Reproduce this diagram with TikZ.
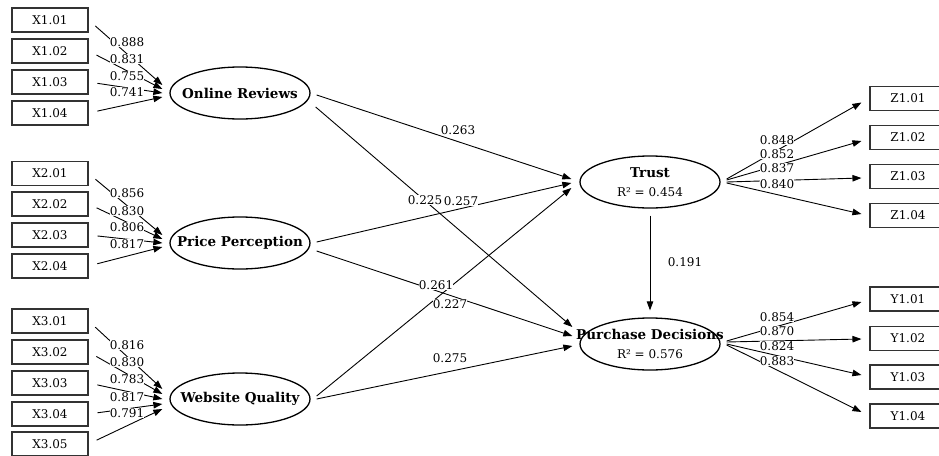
\documentclass[tikz,border=0pt]{standalone}
\usepackage{fontspec}
\setmainfont{DejaVu Serif}
\usetikzlibrary{arrows.meta,shapes.geometric,calc}
\newcommand{\lvtitle}[1]{\makebox[0pt]{\fontsize{13.5}{18}\selectfont\bfseries #1}}
\newcommand{\lvsub}[1]{\makebox[0pt]{\fontsize{12}{18}\selectfont #1}}
\begin{document}
\begin{tikzpicture}[x=1pt,y=-1pt,
  ind/.style={draw=black!80, line width=1.1pt, minimum width=76pt, minimum height=24pt, inner sep=0pt, font=\fontsize{12}{14}\selectfont},
  lat/.style={draw, ellipse, line width=1.3pt, minimum width=140pt, minimum height=52pt, inner sep=0pt, align=center, font=\fontsize{12}{19}\selectfont},
  edge/.style={line width=0.9pt, -{Triangle[length=9pt,width=6.5pt]}},
  lbl/.style={fill=white, inner sep=0.3pt, font=\fontsize{12}{14}\selectfont},
]
\useasboundingbox[fill=white] (0,0) rectangle (939,455);

% indicators
\node[ind] (x101) at (50,20) {X1.01};
\node[ind] (x102) at (50,51) {X1.02};
\node[ind] (x103) at (50,82) {X1.03};
\node[ind] (x104) at (50,113) {X1.04};
\node[ind] (x201) at (50,173.5) {X2.01};
\node[ind] (x202) at (50,204) {X2.02};
\node[ind] (x203) at (50,235) {X2.03};
\node[ind] (x204) at (50,266) {X2.04};
\node[ind] (x301) at (50,321) {X3.01};
\node[ind] (x302) at (50,352) {X3.02};
\node[ind] (x303) at (50,383) {X3.03};
\node[ind] (x304) at (50,414) {X3.04};
\node[ind] (x305) at (50,444) {X3.05};

\node[ind] (z101) at (908,98.5) {Z1.01};
\node[ind] (z102) at (908,137.5) {Z1.02};
\node[ind] (z103) at (908,176.5) {Z1.03};
\node[ind] (z104) at (908,215.5) {Z1.04};
\node[ind] (y101) at (908,299) {Y1.01};
\node[ind] (y102) at (908,338.5) {Y1.02};
\node[ind] (y103) at (908,377) {Y1.03};
\node[ind] (y104) at (908,416) {Y1.04};

% latent variables
\node[lat] (or) at (240,93) {\lvtitle{Online Reviews}};
\node[lat] (pp) at (240,243) {\lvtitle{Price Perception}};
\node[lat] (wq) at (240,399) {\lvtitle{Website Quality}};
\node[lat] (tr) at (650,182) {\lvtitle{Trust}\\\lvsub{R² = 0.454}};
\node[lat] (pd) at (650,344) {\lvtitle{Purchase Decisions}\\\lvsub{R² = 0.576}};

% measurement edges (left)
\draw[edge, shorten <=9pt] (x101.east) -- ($(or.west)+(-7,-8)$);
\draw[edge, shorten <=9pt] (x102.east) -- ($(or.west)+(-7,-4)$);
\draw[edge, shorten <=9pt] (x103.east) -- ($(or.west)+(-7,0)$);
\draw[edge, shorten <=9pt] (x104.east) -- ($(or.west)+(-7,4)$);

\draw[edge, shorten <=9pt] (x201.east) -- ($(pp.west)+(-7,-8)$);
\draw[edge, shorten <=9pt] (x202.east) -- ($(pp.west)+(-7,-4)$);
\draw[edge, shorten <=9pt] (x203.east) -- ($(pp.west)+(-7,0)$);
\draw[edge, shorten <=9pt] (x204.east) -- ($(pp.west)+(-7,4)$);

\draw[edge, shorten <=9pt] (x301.east) -- ($(wq.west)+(-7,-10)$);
\draw[edge, shorten <=9pt] (x302.east) -- ($(wq.west)+(-7,-5)$);
\draw[edge, shorten <=9pt] (x303.east) -- ($(wq.west)+(-7,0)$);
\draw[edge, shorten <=9pt] (x304.east) -- ($(wq.west)+(-7,5)$);
\draw[edge, shorten <=9pt] (x305.east) -- ($(wq.west)+(-7,10)$);

% structural edges
\draw[edge] ($(or.east)+(6,2)$) -- ($(tr.west)+(-8,-3)$);
\draw[edge] ($(or.east)+(5,14)$) -- ($(pd.west)+(-7,-17)$);
\draw[edge] ($(pp.east)+(6,-1)$) -- ($(tr.west)+(-8,1)$);
\draw[edge] ($(pp.east)+(6,8)$) -- ($(pd.west)+(-7,-8)$);
\draw[edge] ($(wq.east)+(6,-3)$) -- ($(tr.west)+(-8,6)$);
\draw[edge] ($(wq.east)+(6,0)$) -- ($(pd.west)+(-7,2)$);
\draw[edge] ($(tr.south)+(0,7)$) -- ($(pd.north)+(0,-7)$);

% measurement edges (right)
\draw[edge] ($(tr.east)+(6,-3)$) -- ($(z101.west)+(-8,4)$);
\draw[edge] ($(tr.east)+(6,-2)$) -- ($(z102.west)+(-8,3.5)$);
\draw[edge] ($(tr.east)+(6,0)$) -- ($(z103.west)+(-8,1.5)$);
\draw[edge] ($(tr.east)+(6,1)$) -- ($(z104.west)+(-8,-1.5)$);

\draw[edge] ($(pd.east)+(6,-3)$) -- ($(y101.west)+(-8,3)$);
\draw[edge] ($(pd.east)+(6,-2)$) -- ($(y102.west)+(-8,0.5)$);
\draw[edge] ($(pd.east)+(6,0)$) -- ($(y103.west)+(-8,-2)$);
\draw[edge] ($(pd.east)+(6,1)$) -- ($(y104.west)+(-8,-4)$);

% labels left
\node[lbl] (l1) at (127,42) {0.888};
\node[lbl] (l2) at (127,59) {0.831};
\node[lbl] (l3) at (127,76) {0.755};
\node[lbl] (l4) at (127,92) {0.741};
\node[lbl] (l5) at (127,193) {0.856};
\node[lbl] (l6) at (127,211) {0.830};
\node[lbl] (l7) at (127,227) {0.806};
\node[lbl] (l8) at (127,244) {0.817};
\node[lbl] (l9) at (127,345) {0.816};
\node[lbl] (l10) at (127,362) {0.830};
\node[lbl] (l11) at (127,379) {0.783};
\node[lbl] (l12) at (127,397) {0.817};
\node[lbl] (l13) at (127,413) {0.791};

% labels middle
\node[lbl] (s1) at (458,130) {0.263};
\node[lbl] (s2) at (425,200) {0.225};
\node[lbl] (s3) at (461,201) {0.257};
\node[lbl] (s4) at (436,285) {0.261};
\node[lbl] (s5) at (450,304) {0.227};
\node[lbl] (s6) at (450,358) {0.275};
\node[lbl] (s7) at (685,262) {0.191};

% labels right
\node[lbl] (r1) at (777,140) {0.848};
\node[lbl] (r2) at (777,154) {0.852};
\node[lbl] (r3) at (777,168) {0.837};
\node[lbl] (r4) at (777,184) {0.840};
\node[lbl] (r5) at (777,317) {0.854};
\node[lbl] (r6) at (777,331) {0.870};
\node[lbl] (r7) at (777,346) {0.824};
\node[lbl] (r8) at (777,361) {0.883};
\end{tikzpicture}
\end{document}
